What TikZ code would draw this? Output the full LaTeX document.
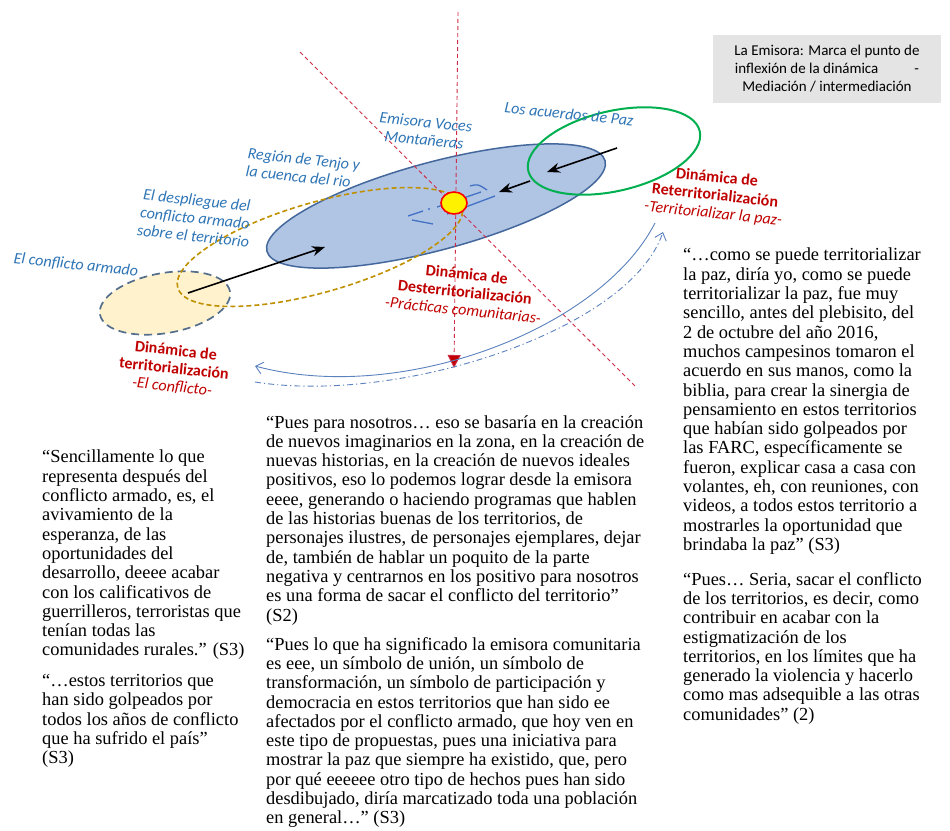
\documentclass[tikz,border=0pt]{standalone}
\usepackage{fontspec}
\setmainfont{Liberation Serif}
\newfontfamily\lbl{Carlito}
\usetikzlibrary{arrows.meta,shapes.geometric}
\definecolor{lblue}{RGB}{46,117,182}
\definecolor{dred}{RGB}{192,0,0}
\definecolor{rline}{RGB}{205,45,70}
\definecolor{regfill}{RGB}{176,196,228}
\definecolor{regdraw}{RGB}{68,104,156}
\definecolor{gold}{RGB}{191,144,0}
\definecolor{peach}{RGB}{255,242,204}
\definecolor{peachdraw}{RGB}{84,110,140}
\definecolor{pgreen}{RGB}{0,176,80}
\definecolor{boxgrey}{RGB}{228,228,228}
\definecolor{arcblue}{RGB}{91,130,190}
\definecolor{markblue}{RGB}{68,114,196}
\begin{document}
\begin{tikzpicture}[x=1pt,y=-1pt,
  quote/.style={anchor=north west, inner sep=0pt, align=left, font=\fontsize{18.4}{19.3}\selectfont},
  bluelbl/.style={text=lblue, font=\lbl\itshape\fontsize{16}{18}\selectfont, rotate=-6, inner sep=0pt},
  redlbl/.style={text=dred, font=\lbl\fontsize{16}{18}\selectfont, rotate=-6, align=center, inner sep=0pt},
  ell/.style={ellipse, inner sep=0pt},
  redguide/.style={draw=rline, line width=0.9pt, dash pattern=on 4pt off 3pt},
  blackarrow/.style={draw=black, line width=1.6pt, -{Stealth[length=13pt,width=10pt]}},
  markline/.style={draw=markblue, line width=1.3pt},
  arcline/.style={draw=arcblue, line width=0.9pt, -{Straight Barb[length=7pt,width=12pt]}}
]
\useasboundingbox (0,0) rectangle (950,830);
\fill[white] (0,0) rectangle (950,830);

% grey box
\node[fill=boxgrey, minimum width=228pt, minimum height=68pt, inner sep=0pt,
      font=\lbl\fontsize{15}{18}\selectfont, align=center] (box) at (827,69)
  {La Emisora: Marca el punto de\\ inflexión de la dinámica\hspace{2.4em}-\\ Mediación / intermediación};

% ellipses
\node[ell, draw=peachdraw, fill=peach, line width=1.7pt, dash pattern=on 8pt off 5pt,
      minimum width=132pt, minimum height=60pt, rotate=10] (conf) at (165,303) {};
\node[ell, draw=regdraw, fill=regfill, line width=1.5pt,
      minimum width=350pt, minimum height=88pt, rotate=15] (region) at (436,206) {};
\node[ell, draw=gold, line width=1.6pt, dash pattern=on 5pt off 3pt,
      minimum width=296pt, minimum height=90pt, rotate=16] (despl) at (320,247) {};
\node[ell, draw=pgreen, line width=2pt,
      minimum width=176pt, minimum height=80pt, rotate=13] (paz) at (614,151) {};

% red guide lines
\coordinate (vtop) at (458,12);
\coordinate (vbot) at (454,368);
\coordinate (dtop) at (300,52);
\coordinate (dbot) at (635,386);
\draw[redguide] (dtop) -- (dbot);
\draw[redguide, -{Triangle[length=13pt,width=13pt,fill=dred]}] (vtop) -- (vbot);

% blue marks around the station
\coordinate (m1) at (437,207); \coordinate (m2) at (481,192);
\coordinate (m3) at (447,214); \coordinate (m4) at (495,196);
\coordinate (m5) at (408,216); \coordinate (m6) at (423,211);
\coordinate (m7) at (412,220); \coordinate (m8) at (433,224);
\coordinate (m9) at (470,186); \coordinate (m10) at (487,190);
\draw[markline] (m1) -- (m2);
\draw[markline] (m3) -- (m4);
\draw[markline] (m5) -- (m6);
\draw[markline] (m7) -- (m8);
\draw[markline] (m9) .. controls (478,184) .. (m10);
\fill[markblue] (429,209) circle (1.2pt);

% station
\node[ell, draw=red, fill=yellow, line width=1.6pt, minimum width=26pt, minimum height=22pt] (emis) at (454,203) {};

% black arrows
\coordinate (a1s) at (188,293); \coordinate (a1e) at (325,247);
\coordinate (a2s) at (617,148); \coordinate (a2e) at (547,172);
\coordinate (a3s) at (530,181); \coordinate (a3e) at (499,192);
\draw[blackarrow] (a1s) -- (a1e);
\draw[blackarrow] (a2s) -- (a2e);
\draw[blackarrow] (a3s) -- (a3e);

% blue arcs
\coordinate (c1s) at (655,223); \coordinate (c1e) at (255,366);
\coordinate (c2s) at (255,382); \coordinate (c2e) at (663,232);
\draw[arcline] (c1s) .. controls (600,330) and (400,405) .. (c1e);
\draw[arcline, dash pattern=on 6pt off 3pt on 1.2pt off 3pt] (c2s) .. controls (400,405) and (630,330) .. (c2e);

% blue labels
\node[bluelbl, align=left] (tenjo) at (303,168) {Región de Tenjo y\\la cuenca del rio};
\node[bluelbl, align=center] (despltxt) at (195,218) {El despliegue del\\conflicto armado\\sobre el territorio};
\node[bluelbl] (conftxt) at (76,265) {El conflicto armado};
\node[bluelbl, align=center] (emistxt) at (425,131) {Emisora Voces\\Montañeras};
\node[bluelbl] (paztxt) at (569,114) {Los acuerdos de Paz};

% red labels
\node[redlbl] (dyn1) at (174,369) {\textbf{Dinámica de}\\\textbf{territorialización}\\\textit{-El conflicto-}};
\node[redlbl] (dyn2) at (465,292) {\textbf{Dinámica de}\\\textbf{Desterritorialización}\\\textit{-Prácticas comunitarias-}};
\node[redlbl] (dyn3) at (715,196) {\textbf{Dinámica de}\\\textbf{Reterritorialización}\\\textit{-Territorializar la paz-}};

% quotes
\node[quote] (q1) at (42,450) {“Sencillamente lo que\\representa después del\\conflicto armado, es, el\\avivamiento de la\\esperanza, de las\\oportunidades del\\desarrollo, deeee acabar\\con los calificativos de\\guerrilleros, terroristas que\\tenían todas las\\comunidades rurales.” (S3)};
\node[quote] (q2) at (42,674) {“…estos territorios que\\han sido golpeados por\\todos los años de conflicto\\que ha sufrido el país”\\(S3)};
\node[quote] (q3) at (266,415) {“Pues para nosotros… eso se basaría en la creación\\de nuevos imaginarios en la zona, en la creación de\\nuevas historias, en la creación de nuevos ideales\\positivos, eso lo podemos lograr desde la emisora\\eeee, generando o haciendo programas que hablen\\de las historias buenas de los territorios, de\\personajes ilustres, de personajes ejemplares, dejar\\de, también de hablar un poquito de la parte\\negativa y centrarnos en los positivo para nosotros\\es una forma de sacar el conflicto del territorio”\\(S2)};
\node[quote] (q4) at (266,637) {“Pues lo que ha significado la emisora comunitaria\\es eee, un símbolo de unión, un símbolo de\\transformación, un símbolo de participación y\\democracia en estos territorios que han sido ee\\afectados por el conflicto armado, que hoy ven en\\este tipo de propuestas, pues una iniciativa para\\mostrar la paz que siempre ha existido, que, pero\\por qué eeeeee otro tipo de hechos pues han sido\\desdibujado, diría marcatizado toda una población\\en general…” (S3)};
\node[quote] (q5) at (683,248) {“…como se puede territorializar\\la paz, diría yo, como se puede\\territorializar la paz, fue muy\\sencillo, antes del plebisito, del\\2 de octubre del año 2016,\\muchos campesinos tomaron el\\acuerdo en sus manos, como la\\biblia, para crear la sinergia de\\pensamiento en estos territorios\\que habían sido golpeados por\\las FARC, específicamente se\\fueron, explicar casa a casa con\\volantes, eh, con reuniones, con\\videos, a todos estos territorio a\\mostrarles la oportunidad que\\brindaba la paz” (S3)};
\node[quote] (q6) at (683,572) {“Pues… Seria, sacar el conflicto\\de los territorios, es decir, como\\contribuir en acabar con la\\estigmatización de los\\territorios, en los límites que ha\\generado la violencia y hacerlo\\como mas adsequible a las otras\\comunidades” (2)};
\end{tikzpicture}
\end{document}
